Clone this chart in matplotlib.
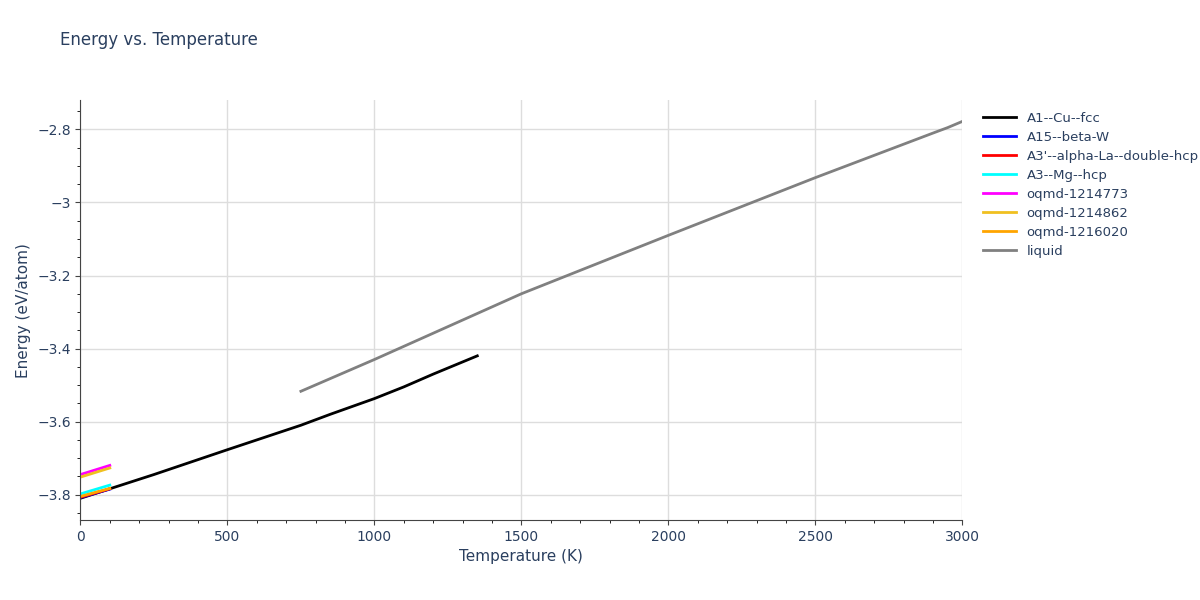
import matplotlib.pyplot as plt

# data
fcc_T = [0, 250, 500, 750, 850, 1000, 1100, 1200, 1350]
fcc_E = [-3.81, -3.745, -3.677, -3.61, -3.58, -3.537, -3.505, -3.47, -3.42]
short_T = [0, 100]
short_series = {
    "A15--beta-W": ("#0000ff", [-3.808, -3.785]),
    "A3'--alpha-La--double-hcp": ("#ff0000", [-3.807, -3.784]),
    "A3--Mg--hcp": ("#00ffff", [-3.798, -3.774]),
    "oqmd-1214773": ("#ff00ff", [-3.745, -3.72]),
    "oqmd-1214862": ("#f0c020", [-3.752, -3.727]),
    "oqmd-1216020": ("#ffa500", [-3.805, -3.783]),
}
liq_T = [750, 1000, 1500, 2000, 2500, 2900, 2950, 3000]
liq_E = [-3.517, -3.43, -3.25, -3.09, -2.932, -2.81, -2.795, -2.778]

fig = plt.figure(figsize=(12, 6), dpi=100)
ax = fig.add_axes([0.067, 0.133, 0.735, 0.7])
ax.plot(fcc_T, fcc_E, color="black", lw=2, label="A1--Cu--fcc")
for name, (c, e) in short_series.items():
    ax.plot(short_T, e, color=c, lw=2, label=name)
ax.plot(liq_T, liq_E, color="gray", lw=2, label="liquid")

ax.set_xlim(0, 3000)
ax.set_ylim(-3.87, -2.72)
ax.set_xticks([0, 500, 1000, 1500, 2000, 2500, 3000])
ax.set_xticklabels(["0", "500", "1000", "1500", "2000", "2500", "3000"])
ax.set_yticks([-3.8, -3.6, -3.4, -3.2, -3.0, -2.8])
ax.set_yticklabels(["−3.8", "−3.6", "−3.4", "−3.2", "−3", "−2.8"])
ax.minorticks_on()
ax.grid(True, which="major", color="#dddddd", lw=1)
for s in ["top", "right"]:
    ax.spines[s].set_visible(False)
for s in ["left", "bottom"]:
    ax.spines[s].set_color("#444444")
ax.tick_params(colors="#444444", labelcolor="#2a3f5f", labelsize=10)
ax.set_xlabel("Temperature (K)", color="#2a3f5f", fontsize=11)
ax.set_ylabel("Energy (eV/atom)", color="#2a3f5f", fontsize=11)
fig.text(0.05, 0.925, "Energy vs. Temperature", color="#2a3f5f", fontsize=12)
ax.legend(loc="upper left", bbox_to_anchor=(1.01, 1.0), frameon=False,
          fontsize=9.5, labelcolor="#2a3f5f", handlelength=2.5, labelspacing=0.45)
fig.savefig("out.png")
